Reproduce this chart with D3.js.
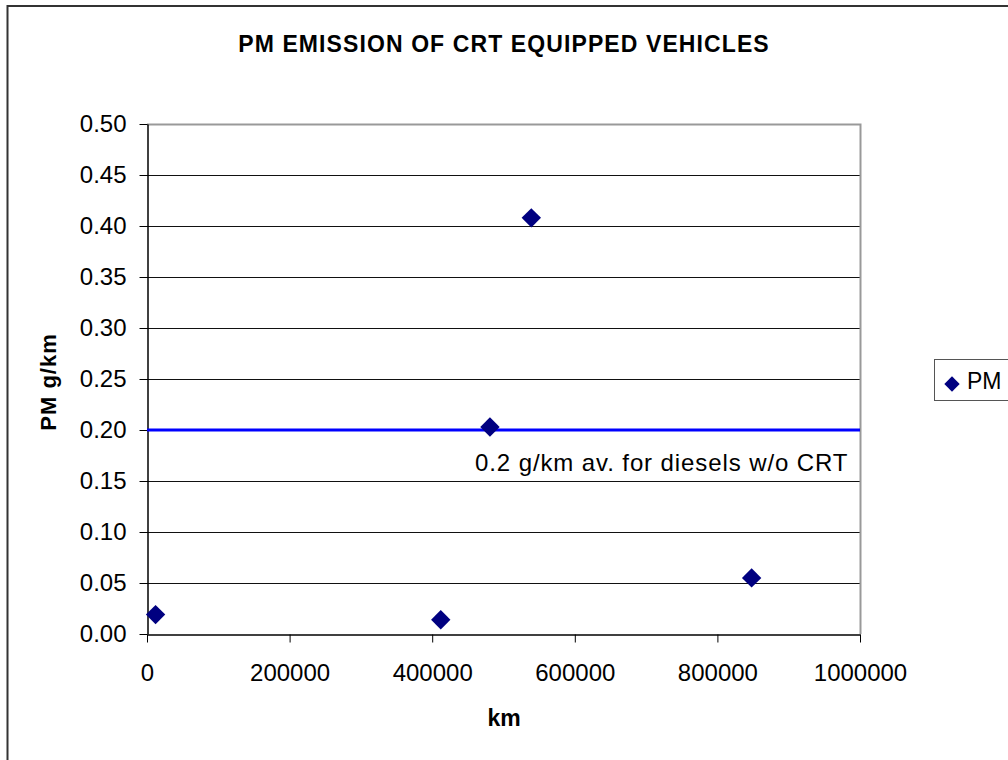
<!DOCTYPE html>
<html lang="en">
<head>
  <meta charset="UTF-8">
  <title>PM Emission of CRT Equipped Vehicles</title>
  <style>
    body {
      margin: 0;
      padding: 0;
      background-color: white;
      font-family: "Liberation Sans", Arial, sans-serif;
    }
    .grid line {
      stroke: #111;
      stroke-width: 1;
    }
    .axis text {
      font-size: 24px;
      fill: #000;
    }
    .axis path, .axis line {
      stroke: #000;
    }
  </style>
</head>
<body>
  <div id="chart"></div>

  <script src="https://d3js.org/d3.v7.min.js"></script>
  <script>
    // data
    var kmValues = [12000, 412000, 481000, 539000, 848000];
    var pmValues = [0.019, 0.014, 0.203, 0.408, 0.055];
    var yTicks = [0, 0.05, 0.10, 0.15, 0.20, 0.25, 0.30, 0.35, 0.40, 0.45, 0.50];
    var xTicks = [0, 200000, 400000, 600000, 800000, 1000000];
    var referenceLevel = 0.2;
    var referenceLabel = "0.2 g/km av. for diesels w/o CRT";
    var seriesName = "PM";

    var width = 1008, height = 760;
    var plot = {left: 147, top: 124, right: 860, bottom: 634};

    var svg = d3.select("#chart").append("svg")
                .attr("width", width)
                .attr("height", height)
                .style("display", "block");

    // outer chart frame (runs off the right and bottom edges)
    svg.append("rect")
       .attr("x", 7.5).attr("y", 6)
       .attr("width", 1020).attr("height", 780)
       .attr("fill", "white")
       .attr("stroke", "#333")
       .attr("stroke-width", 2);

    var x = d3.scaleLinear().domain([0, 1000000]).range([plot.left, plot.right]);
    var y = d3.scaleLinear().domain([0, 0.5]).range([plot.bottom, plot.top]);

    // gridlines
    svg.append("g")
       .attr("class", "grid")
       .selectAll("line")
       .data(yTicks.slice(1, -1))
       .enter().append("line")
       .attr("x1", plot.left).attr("x2", plot.right)
       .attr("y1", function(d) { return Math.round(y(d)) + 0.5; })
       .attr("y2", function(d) { return Math.round(y(d)) + 0.5; });

    // top and right border of plot area (grey)
    svg.append("path")
       .attr("d", "M" + plot.left + "," + (plot.top + 0.5) + "H" + (plot.right + 0.5) + "V" + plot.bottom)
       .attr("fill", "none")
       .attr("stroke", "#999")
       .attr("stroke-width", 2);

    // axes
    svg.append("g")
       .attr("class", "axis axis--y")
       .attr("transform", "translate(" + (plot.left + 0.5) + ",0)")
       .call(d3.axisLeft(y).tickValues(yTicks).tickSize(8).tickPadding(13).tickSizeOuter(0)
             .tickFormat(d3.format(".2f")));

    svg.append("g")
       .attr("class", "axis axis--x")
       .attr("transform", "translate(0," + (plot.bottom + 0.5) + ")")
       .call(d3.axisBottom(x).tickValues(xTicks).tickSize(8).tickPadding(21).tickSizeOuter(0)
             .tickFormat(d3.format("d")));

    svg.selectAll(".axis .domain").attr("stroke", "#000").attr("stroke-width", 1.5);

    // reference line
    svg.append("line")
       .attr("x1", plot.left).attr("x2", plot.right)
       .attr("y1", y(referenceLevel)).attr("y2", y(referenceLevel))
       .attr("stroke", "#0000ff")
       .attr("stroke-width", 3);

    svg.append("text")
       .attr("x", 475)
       .attr("y", y(referenceLevel) + 41)
       .style("font-size", "24px")
       .style("letter-spacing", "0.9px")
       .text(referenceLabel);

    // points
    var diamond = d3.symbol().type(d3.symbolDiamond2).size(240);
    svg.selectAll(".pt")
       .data(kmValues)
       .enter().append("path")
       .attr("class", "pt")
       .attr("d", diamond)
       .attr("transform", function(d, i) { return "translate(" + x(d) + "," + y(pmValues[i]) + ")"; })
       .attr("fill", "#000080");

    // title
    svg.append("text")
       .attr("x", 504)
       .attr("y", 52)
       .attr("text-anchor", "middle")
       .style("font-size", "23px")
       .style("font-weight", "bold")
       .style("letter-spacing", "1.1px")
       .text("PM EMISSION OF CRT EQUIPPED VEHICLES");

    // axis titles
    svg.append("text")
       .attr("x", 504)
       .attr("y", 726)
       .attr("text-anchor", "middle")
       .style("font-size", "23px")
       .style("font-weight", "bold")
       .text("km");

    svg.append("text")
       .attr("transform", "translate(56,382) rotate(-90)")
       .attr("text-anchor", "middle")
       .style("font-size", "22px")
       .style("font-weight", "bold")
       .style("letter-spacing", "1px")
       .text("PM g/km");

    // legend
    var legend = svg.append("g").attr("transform", "translate(934,359)");
    legend.append("rect")
          .attr("x", 0.5).attr("y", 0.5)
          .attr("width", 100).attr("height", 41)
          .attr("fill", "white")
          .attr("stroke", "#555");
    legend.append("path")
          .attr("d", d3.symbol().type(d3.symbolDiamond2).size(150))
          .attr("transform", "translate(18,25)")
          .attr("fill", "#000080");
    legend.append("text")
          .attr("x", 33).attr("y", 30)
          .style("font-size", "23px")
          .text(seriesName);
  </script>
</body>
</html>
